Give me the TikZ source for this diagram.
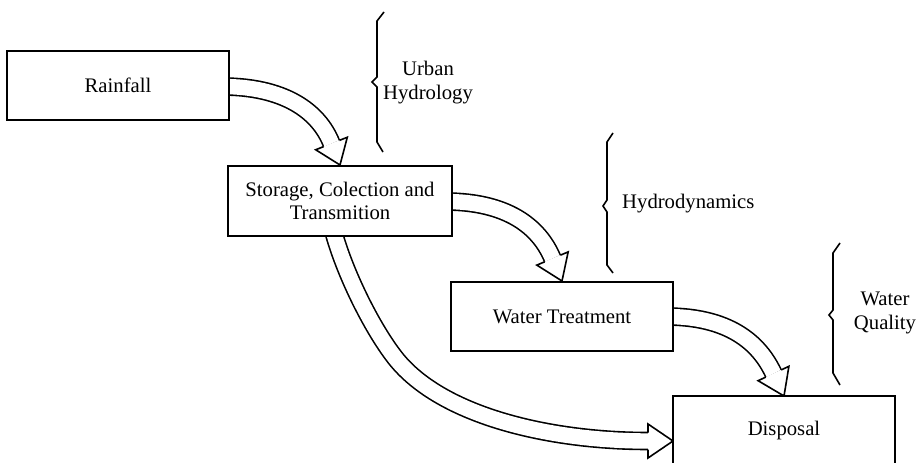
\documentclass[tikz,border=0pt]{standalone}
\usepackage{fontspec}
\setmainfont{Liberation Serif}
\usetikzlibrary{calc}

% open block arrow head: base centre #1, tip #2
\newcommand{\blockhead}[2]{%
  \filldraw[fill=white,line width=1.6pt,line join=miter]
    ($(#1)!8.5pt!90:(#2)$) -- ($(#1)!17pt!90:(#2)$) -- (#2)
    -- ($(#1)!17pt!-90:(#2)$) -- ($(#1)!8.5pt!-90:(#2)$);}

\begin{document}
\begin{tikzpicture}[x=1pt,y=-1pt,
  stage/.style={draw,line width=1.6pt,fill=white,inner sep=0pt,
    minimum width=222pt,minimum height=69pt,align=center,
    font=\fontsize{20.7}{23}\selectfont},
  label/.style={inner sep=0pt,align=center,font=\fontsize{20.7}{24}\selectfont},
  shaft/.style={draw,line width=1.6pt,double=white,double distance=15.4pt,line cap=butt},
  brace/.style={draw,line width=1.6pt,line join=miter}]
\useasboundingbox (0,0) rectangle (921,463);
\clip (0,0) rectangle (921,463);

% stage positions (drawn after the arrows so they cover the shaft starts)
\coordinate (cRain) at (118,85.5);
\coordinate (cStore) at (340,201);
\coordinate (cTreat) at (562,316.5);
\coordinate (cDisp) at (784,431);

% arrow end points
\coordinate (s1) at (222,86.5);
\coordinate (t1) at (340,165);
\coordinate (e1) at ($(t1)+(-8.5,-21.5)$);
\coordinate (s2) at (445,201.5);
\coordinate (t2) at (562,281);
\coordinate (e2) at ($(t2)+(-9.5,-22.5)$);
\coordinate (s3) at (666,316.5);
\coordinate (t3) at (784,396);
\coordinate (e3) at ($(t3)+(-10.5,-22.5)$);
\coordinate (s4) at (332,226);
\coordinate (m4) at (393,355);
\coordinate (t4) at (673,441);
\coordinate (e4) at ($(t4)+(-25,0)$);

% shafts
\draw[shaft] (s1) .. controls (284,86.5) and ($(e1)!-35pt!(t1)$) .. (e1);
\draw[shaft] (s2) .. controls (507,201.5) and ($(e2)!-35pt!(t2)$) .. (e2);
\draw[shaft] (s3) .. controls (728,316.5) and ($(e3)!-35pt!(t3)$) .. (e3);
\draw[shaft] (s4) .. controls (342,267) and (369,323) .. (m4)
  .. controls (437.6,415.3) and (548,441) .. (e4);

% heads
\blockhead{e1}{t1}
\blockhead{e2}{t2}
\blockhead{e3}{t3}
\blockhead{e4}{t4}

% stages
\node[stage] (rain) at (cRain) {Rainfall};
\node[stage,minimum width=224pt,minimum height=70pt] (store) at (cStore)
  {Storage, Colection and\\Transmition};
\node[stage] (treat) at (cTreat) {Water Treatment};
\node[stage,minimum height=70pt] (disp) at (cDisp) {Disposal};

% braces and their labels
\draw[brace] (384,12) -- (377,21) -- (377,77) -- (372,82) -- (377,87)
  -- (377,142) -- (383,152);
\node[label] (urban) at (428,83) {Urban\\Hydrology};

\draw[brace] (613,133) -- (607,142) -- (607,200) -- (603,206) -- (607,212)
  -- (607,265) -- (613,273);
\node[label,anchor=west] (hydro) at (622,204) {Hydrodynamics};

\draw[brace] (840,243) -- (833,253) -- (833,310) -- (829,315) -- (833,320)
  -- (833,373) -- (840,385);
\node[label] (quality) at (885,313) {Water\\Quality};
\end{tikzpicture}
\end{document}
